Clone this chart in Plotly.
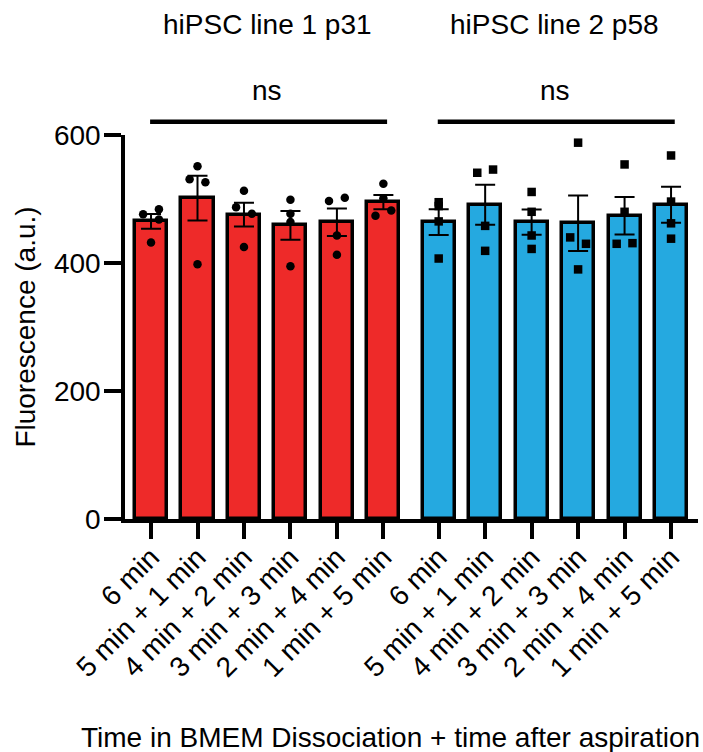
import numpy as np
import plotly.graph_objects as go

# ---------------- data ----------------
categories = ["6 min", "5 min + 1 min", "4 min + 2 min",
              "3 min + 3 min", "2 min + 4 min", "1 min + 5 min"]
group_titles = ["hiPSC line 1 p31", "hiPSC line 2 p58"]
significance = ["ns", "ns"]

line1_points = [
    [476, 484, 468, 432],
    [551, 531, 526, 398],
    [513, 487, 477, 425],
    [499, 477, 464, 395],
    [497, 502, 443, 413],
    [524, 501, 474, 482],
]
line2_points = [
    [495, 489, 465, 407],
    [541, 546, 458, 419],
    [511, 480, 443, 422],
    [588, 440, 430, 390],
    [554, 480, 430, 431],
    [568, 496, 462, 438],
]
y_ticks = [0, 200, 400, 600]
y_title = "Fluorescence (a.u.)"
x_title = "Time in BMEM Dissociation + time after aspiration"

# ---------------- style / layout ----------------
FONT = "Liberation Sans, Arial, sans-serif"
FS = 28
RED = "#EE2A29"
BLUE = "#25A9E0"
GROUP_SHIFT = 6.19
BAR_W = 0.69
JIT = 0.17
# horizontal scatter arrangement of the replicate dots (-1 left, 0 centre, 1 right)
jitter1 = [[-1, 1, 1, 0], [0, -1, 1, 0], [0, -1, 1, 0],
           [0, 0, 0, 0], [-1, 1, 0, 0], [0, 0, -1, 1]]
jitter2 = [[0, 0, 0, 0], [-1, 1, 0, 0], [0, 0, 0, 0],
           [0, -1, 1, 0], [0, 0, -1, 1], [0, 0, 0, 0]]

fig = go.Figure()
groups = [(line1_points, jitter1, RED, "circle"),
          (line2_points, jitter2, BLUE, "square")]

tickvals, ticktext = [], []
for g, (pts, jit, color, symbol) in enumerate(groups):
    xs = [i + g * GROUP_SHIFT for i in range(len(categories))]
    arr = [np.array(p, dtype=float) for p in pts]
    means = [a.mean() for a in arr]
    sems = [a.std(ddof=1) / np.sqrt(len(a)) for a in arr]
    fig.add_trace(go.Bar(
        x=xs, y=means, width=BAR_W,
        marker=dict(color=color, line=dict(color="black", width=3.5)),
        error_y=dict(type="data", array=sems, visible=True,
                     color="black", thickness=2, width=10),
        showlegend=False,
    ))
    px_, py_ = [], []
    for xi, p, j in zip(xs, pts, jit):
        for v, o in zip(p, j):
            px_.append(xi + o * JIT)
            py_.append(v)
    fig.add_trace(go.Scatter(
        x=px_, y=py_, mode="markers", cliponaxis=False,
        marker=dict(symbol=symbol, size=8.5, color="black", line=dict(width=0)),
        showlegend=False,
    ))
    tickvals += xs
    ticktext += categories
    # group title, significance text and bar
    mid = (xs[0] + xs[-1]) / 2
    fig.add_annotation(x=mid, xref="x", y=1.289, yref="paper",
                       text=group_titles[g], showarrow=False,
                       font=dict(family=FONT, size=FS, color="black"),
                       xanchor="center", yanchor="middle")
    fig.add_annotation(x=mid, xref="x", y=1.117, yref="paper",
                       text=significance[g], showarrow=False,
                       font=dict(family=FONT, size=FS, color="black"),
                       xanchor="center", yanchor="middle")
    fig.add_shape(type="line", xref="x", yref="paper",
                  x0=xs[0] - 0.02, x1=xs[-1] + 0.08, y0=1.0346, y1=1.0346,
                  line=dict(color="black", width=4.5))

fig.add_annotation(x=0.4625, xref="paper", y=-0.568, yref="paper",
                   text=x_title, showarrow=False,
                   font=dict(family=FONT, size=FS, color="black"),
                   xanchor="center", yanchor="middle")

fig.update_layout(
    width=703, height=752,
    margin=dict(l=125, r=5, t=135, b=233, pad=0, autoexpand=False),
    plot_bgcolor="white", paper_bgcolor="white",
    font=dict(family=FONT, size=FS, color="black"),
    bargap=0,
)
fig.update_xaxes(
    range=[-0.56, 11.77], tickvals=tickvals, ticktext=ticktext,
    tickangle=-45, showline=True, linecolor="black", linewidth=3.5,
    ticks="outside", ticklen=16, tickwidth=3.5, tickcolor="black",
    showgrid=False, zeroline=False, automargin=False,
    ticklabelstandoff=-9,
    tickfont=dict(family=FONT, size=FS, color="black"),
)
fig.update_yaxes(
    range=[0, 600], tickvals=y_ticks, showline=True, linecolor="black",
    linewidth=3.5, ticks="outside", ticklen=17, tickwidth=3.5,
    tickcolor="black", showgrid=False, zeroline=False, automargin=False,
    ticklabelstandoff=-2,
    title=dict(text=y_title, font=dict(family=FONT, size=FS, color="black"),
               standoff=11),
    tickfont=dict(family=FONT, size=FS, color="black"),
)

fig.write_html(
    "out.html",
    config={"displayModeBar": False},
    post_script="document.body.style.margin='0px';document.body.style.overflow='hidden';",
)
